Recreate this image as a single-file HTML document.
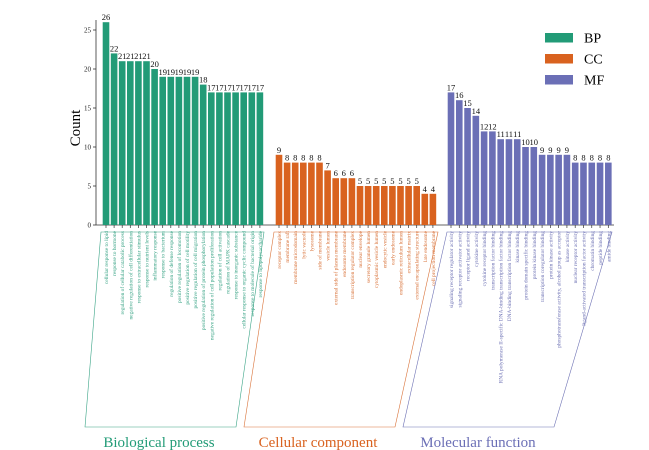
<!DOCTYPE html>
<html><head><meta charset="utf-8"><style>
body{margin:0;background:#fff;}
svg{display:block;font-family:"Liberation Serif",serif;}
</style></head><body>
<svg id="chart" width="649" height="450"></svg>
<script>
const bpTerms=["cellular response to lipid","response to hormone","regulation of cellular catabolic process","negative regulation of cell differentiation","response to extracellular stimulus","response to nutrient levels","inflammatory response","response to bacterium","regulation of defense response","positive regulation of locomotion","positive regulation of cell motility","positive regulation of cell migration","positive regulation of protein phosphorylation","negative regulation of cell population proliferation","regulation of cell activation","regulation of MAPK cascade","response to inorganic substance","cellular response to organic cyclic compound","response to molecule of bacterial origin","response to lipopolysaccharide"];
const bpValues=[26,22,21,21,21,21,20,19,19,19,19,19,18,17,17,17,17,17,17,17];
const ccTerms=["receptor complex","membrane raft","membrane microdomain","lytic vacuole","lysosome","side of membrane","vesicle lumen","external side of plasma membrane","endosome membrane","transcription regulator complex","nuclear envelope","secretory granule lumen","cytoplasmic vesicle lumen","endocytic vesicle","early endosome","endoplasmic reticulum lumen","extracellular matrix","external encapsulating structure","late endosome","cell projection membrane"];
const ccValues=[9,8,8,8,8,8,7,6,6,6,5,5,5,5,5,5,5,5,4,4];
const mfTerms=["signaling receptor regulator activity","signaling receptor activator activity","receptor ligand activity","cytokine activity","cytokine receptor binding","transcription factor binding","RNA polymerase II-specific DNA-binding transcription factor binding","DNA-binding transcription factor binding","kinase binding","protein domain specific binding","protein kinase binding","transcription coregulator binding","protein kinase activity","phosphotransferase activity, alcohol group as acceptor","kinase activity","nuclear receptor activity","ligand-activated transcription factor activity","chromatin binding","peptide binding","amide binding"];
const mfValues=[17,16,15,14,12,12,11,11,11,10,10,9,9,9,9,8,8,8,8,8];
const yTicks=[0,5,10,15,20,25];

const NS="http://www.w3.org/2000/svg";
const svg=document.getElementById('chart');
function mk(t,a,p){const e=document.createElementNS(NS,t);for(const k in a)e.setAttribute(k,a[k]);(p||svg).appendChild(e);return e;}
const y0=225,unit=7.8;
const yScale=v=>y0-v*unit;
const bw=6.6;
const ax=mk('line',{x1:96,y1:20,x2:96,y2:y0,stroke:'#333','stroke-width':0.8});


const xa=mk('line',{x1:96,y1:y0,x2:614,y2:y0,stroke:'#333','stroke-width':0.8});


yTicks.forEach(v=>{
  mk('line',{x1:93,y1:yScale(v),x2:96,y2:yScale(v),stroke:'#333','stroke-width':0.8});
  const t=mk('text',{x:91,y:yScale(v)+2.5,'font-size':7,'text-anchor':'end',fill:'#222'});
  t.textContent=v;
  
  
});
const yl=mk('text',{x:0,y:0,'font-size':15,'text-anchor':'middle',fill:'#000',transform:'translate(80,128) rotate(-90)'});
yl.textContent='Count';



const groups=[
 {terms:bpTerms,vals:bpValues,x0:106,step:8.1,color:'#229b77',lcolor:'#3aa486',name:'bp',title:'Biological process',br:[[101,232],[264,232],[236,427],[85,427]],tx:159},
 {terms:ccTerms,vals:ccValues,x0:279,step:8.1,color:'#d9621f',lcolor:'#d9733a',name:'cc',title:'Cellular component',br:[[274,232],[438,232],[395,427],[244,427]],tx:318},
 {terms:mfTerms,vals:mfValues,x0:451,step:8.28,color:'#6b6fb6',lcolor:'#6f73b5',name:'mf',title:'Molecular function',br:[[447,232],[612,232],[554,427],[403,427]],tx:478}
];
groups.forEach(g=>{
  g.vals.forEach((v,k)=>{
    const cx=g.x0+k*g.step;
    const r=mk('rect',{x:cx-bw/2,y:yScale(v),width:bw,height:y0-yScale(v),fill:g.color});
    
    
    mk('line',{x1:cx,y1:y0,x2:cx,y2:y0+3,stroke:'#333','stroke-width':0.7});
    const vt=mk('text',{x:cx,y:yScale(v)-2,'font-size':8.5,'text-anchor':'middle',fill:'#111'});
    vt.textContent=v;
    
    
    const lt=mk('text',{x:0,y:0,'font-size':5.4,'text-anchor':'end',fill:g.lcolor,transform:`translate(${cx+2},${y0+6}) rotate(-90)`});
    lt.textContent=g.terms[k];
    
    
  });
  const p=mk('polygon',{points:g.br.map(q=>q.join(',')).join(' '),fill:'none',stroke:g.lcolor,'stroke-width':0.6});
  
  
  const gt=mk('text',{x:g.tx,y:447,'font-size':15,'text-anchor':'middle',fill:g.color});
  gt.textContent=g.title;
  
  
});
[['BP','#229b77',33],['CC','#d9621f',54],['MF','#6b6fb6',75]].forEach(l=>{
  const r=mk('rect',{x:545,y:l[2],width:28,height:9.5,fill:l[1]});
  
  
  const t=mk('text',{x:584,y:l[2]+9.5,'font-size':14,fill:'#000'});
  t.textContent=l[0];
  
  
});
</script>
</body></html>
